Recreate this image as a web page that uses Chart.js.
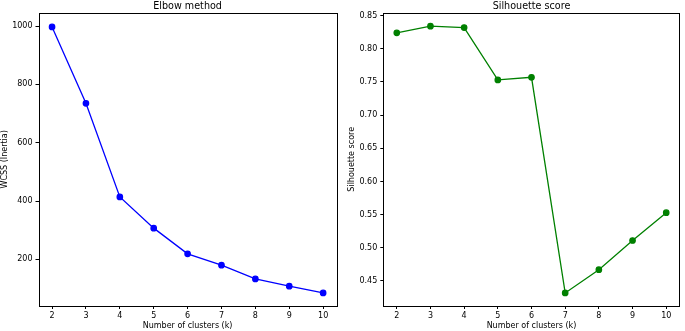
<!DOCTYPE html>
<html>
<head>
<meta charset="utf-8">
<script src="https://cdn.jsdelivr.net/npm/chart.js@4"></script>
<style>
  body { margin: 0; background: #fff; }
  .wrap { position: absolute; top: 0; }
</style>
</head>
<body>
<div class="wrap" style="left:0"><canvas id="elbowChart" width="342" height="331"></canvas></div>
<div class="wrap" style="left:342px"><canvas id="silChart" width="343" height="331"></canvas></div>
<script>
// data
const kValues = [2, 3, 4, 5, 6, 7, 8, 9, 10];
const wcss = [997, 735, 414, 307, 219, 180, 133, 108, 85];
const silhouette = [0.824, 0.834, 0.832, 0.753, 0.757, 0.432, 0.467, 0.511, 0.553];

const xTicks = [2, 3, 4, 5, 6, 7, 8, 9, 10];
const wcssTicks = [200, 400, 600, 800, 1000];
const silTicks = [0.45, 0.50, 0.55, 0.60, 0.65, 0.70, 0.75, 0.80, 0.85];

const FONT = 'DejaVu Sans';

// draw a full box around the plot, like matplotlib
const framePlugin = {
  id: 'frame',
  afterDraw(chart) {
    const a = chart.chartArea;
    const ctx = chart.ctx;
    ctx.save();
    ctx.strokeStyle = '#000';
    ctx.lineWidth = 1;
    ctx.strokeRect(Math.round(a.left) + 0.5, Math.round(a.top) + 0.5,
      Math.round(a.right - a.left), Math.round(a.bottom - a.top));
    ctx.restore();
  }
};

function makeChart(canvasId, title, yTitle, values, color, yMin, yMax, yTicks, yWidth, yTitlePad, padRight, fmt) {
  const ctx = document.getElementById(canvasId).getContext('2d');
  return new Chart(ctx, {
    type: 'line',
    data: {
      datasets: [{
        data: kValues.map((k, i) => ({ x: k, y: values[i] })),
        borderColor: color,
        backgroundColor: color,
        pointBackgroundColor: color,
        pointBorderColor: color,
        borderWidth: 1.3,
        pointRadius: 2.7,
        tension: 0
      }]
    },
    options: {
      responsive: false,
      animation: false,
      layout: { padding: { left: 0, right: padRight, top: 0, bottom: 0 } },
      plugins: {
        legend: { display: false },
        tooltip: { enabled: false },
        title: {
          display: true,
          text: title,
          color: '#000',
          fullSize: false,
          font: { family: FONT, size: 9.6, weight: 'normal', lineHeight: 1 },
          padding: { top: 2, bottom: 1 }
        }
      },
      scales: {
        x: {
          type: 'linear',
          min: 1.6,
          max: 10.4,
          afterBuildTicks: (s) => { s.ticks = xTicks.map(v => ({ value: v })); },
          afterFit: (s) => { s.height = 25; },
          grid: { drawOnChartArea: false, drawTicks: true, tickLength: 3, color: '#000' },
          border: { display: false },
          ticks: { color: '#000', padding: 2, maxRotation: 0, font: { family: FONT, size: 8 } },
          title: {
            display: true,
            text: 'Number of clusters (k)',
            color: '#000',
            padding: 0,
            font: { family: FONT, size: 8 }
          }
        },
        y: {
          type: 'linear',
          min: yMin,
          max: yMax,
          afterBuildTicks: (s) => { s.ticks = yTicks.map(v => ({ value: v })); },
          afterFit: (s) => { s.width = yWidth; },
          grid: { drawOnChartArea: false, drawTicks: true, tickLength: 3, color: '#000' },
          border: { display: false },
          ticks: { color: '#000', padding: 3, font: { family: FONT, size: 8 }, callback: fmt },
          title: {
            display: true,
            text: yTitle,
            color: '#000',
            padding: { top: yTitlePad, bottom: 0 },
            font: { family: FONT, size: 8 }
          }
        }
      }
    },
    plugins: [framePlugin]
  });
}

makeChart('elbowChart', 'Elbow method', 'WCSS (Inertia)', wcss, '#0000ff',
  40, 1046, wcssTicks, 38.5, 0, 3, (v) => String(v));
makeChart('silChart', 'Silhouette score', 'Silhouette score', silhouette, '#008000',
  0.4123, 0.8545, silTicks, 41.3, 5, 1.7, (v) => v.toFixed(2));
</script>
</body>
</html>
